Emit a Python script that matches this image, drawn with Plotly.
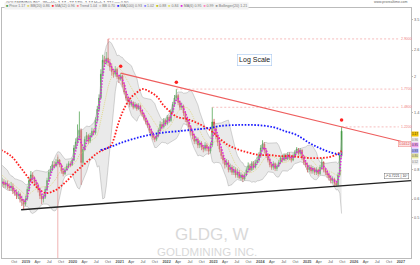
import numpy as np
import pandas as pd
import plotly.graph_objects as go

# ---------------- data (bi-weekly bars) ----------------
bar_start = "2018-02-23"
first_open = 0.84
close = [0.82,0.80,0.78,0.80,0.76,0.74,0.75,0.72,0.70,0.71,
         0.69,0.70,0.68,0.67,0.68,0.65,0.64,0.62,0.63,0.60,
         0.59,0.57,0.60,0.66,0.72,0.76,0.74,0.71,0.69,0.66,
         0.62,0.60,0.61,0.66,0.72,0.78,0.80,0.84,0.83,0.86,
         0.88,0.84,0.79,0.77,0.80,0.83,0.85,0.84,0.88,0.99,
         1.05,1.10,1.18,0.86,0.98,1.08,1.12,1.06,1.12,1.17,
         1.15,1.30,1.45,1.62,2.05,2.35,2.30,2.40,2.30,2.20,
         2.10,2.05,2.15,2.00,1.95,2.02,1.85,1.72,1.62,1.58,
         1.52,1.55,1.48,1.52,1.46,1.50,1.42,1.38,1.33,1.28,
         1.24,1.18,1.14,1.10,1.08,1.12,1.18,1.25,1.22,1.30,
         1.26,1.34,1.30,1.42,1.52,1.62,1.66,1.55,1.48,1.50,
         1.40,1.32,1.28,1.22,1.16,1.12,1.06,1.08,1.02,1.04,
         1.00,0.98,1.02,0.99,0.96,1.02,1.28,1.20,1.12,1.05,
         0.98,0.92,0.88,0.84,0.86,0.80,0.82,0.78,0.80,0.76,
         0.78,0.74,0.76,0.73,0.76,0.80,0.83,0.80,0.85,0.82,
         0.86,0.88,0.92,0.99,1.03,0.97,0.92,0.88,0.84,0.82,
         0.85,0.81,0.83,0.86,0.90,0.88,0.92,0.89,0.93,0.90,
         0.88,0.92,0.95,0.98,0.94,0.97,0.90,0.86,0.84,0.80,
         0.82,0.79,0.81,0.78,0.80,0.77,0.82,0.86,0.80,0.78,
         0.76,0.74,0.72,0.73,0.70,0.69,0.76,0.92,1.17]
high = [0.87,0.84,0.82,0.83,0.82,0.78,0.78,0.77,0.74,0.74,
        0.73,0.72,0.72,0.70,0.71,0.70,0.67,0.66,0.65,0.64,
        0.62,0.60,0.62,0.68,0.74,0.79,0.78,0.75,0.72,0.70,
        0.67,0.63,0.63,0.68,0.74,0.80,0.83,0.87,0.87,0.89,
        0.91,0.89,0.85,0.81,0.82,0.85,0.87,0.87,0.90,1.02,
        1.09,1.25,1.42,1.20,1.01,1.11,1.16,1.14,1.15,1.21,
        1.20,1.34,1.50,1.68,2.15,2.48,2.45,2.55,2.90,2.38,
        2.28,2.16,2.22,2.18,2.04,2.07,2.04,1.88,1.75,1.66,
        1.61,1.59,1.57,1.56,1.54,1.54,1.52,1.45,1.40,1.35,
        1.31,1.26,1.20,1.16,1.12,1.15,1.21,1.29,1.28,1.33,
        1.32,1.37,1.37,1.45,1.56,1.67,1.77,1.69,1.58,1.55,
        1.52,1.42,1.35,1.30,1.24,1.18,1.14,1.11,1.10,1.07,
        1.06,1.02,1.05,1.04,1.01,1.05,1.48,1.32,1.23,1.14,
        1.07,1.00,0.94,0.90,0.89,0.88,0.85,0.84,0.83,0.82,
        0.81,0.80,0.78,0.77,0.78,0.82,0.86,0.85,0.87,0.87,
        0.88,0.91,0.95,1.02,1.07,1.05,0.99,0.94,0.90,0.86,
        0.87,0.86,0.85,0.88,0.92,0.92,0.94,0.94,0.95,0.95,
        0.92,0.94,0.97,1.00,0.99,0.99,0.98,0.92,0.88,0.86,
        0.84,0.84,0.83,0.82,0.82,0.81,0.84,0.90,0.87,0.82,
        0.80,0.78,0.76,0.75,0.74,0.72,0.78,0.95,1.22]
low = [0.79,0.77,0.75,0.76,0.74,0.72,0.72,0.70,0.68,0.68,
       0.67,0.67,0.66,0.65,0.65,0.63,0.62,0.60,0.60,0.58,
       0.56,0.54,0.56,0.59,0.65,0.71,0.72,0.69,0.67,0.64,
       0.60,0.57,0.58,0.60,0.65,0.71,0.76,0.79,0.81,0.82,
       0.84,0.82,0.77,0.75,0.76,0.79,0.81,0.82,0.83,0.87,
       0.97,1.03,1.08,0.69,0.84,0.96,1.05,1.03,1.04,1.10,
       1.12,1.13,1.28,1.42,1.60,2.00,2.20,2.25,2.22,2.12,
       2.02,1.98,2.00,1.95,1.88,1.92,1.80,1.68,1.58,1.53,
       1.48,1.49,1.45,1.46,1.43,1.44,1.39,1.35,1.30,1.25,
       1.21,1.15,1.11,1.07,1.05,1.06,1.10,1.16,1.19,1.20,
       1.23,1.24,1.27,1.28,1.40,1.50,1.58,1.51,1.44,1.44,
       1.36,1.28,1.24,1.18,1.12,1.08,1.03,1.03,0.99,0.99,
       0.97,0.95,0.96,0.96,0.93,0.94,1.00,1.15,1.08,1.01,
       0.95,0.89,0.85,0.81,0.82,0.78,0.78,0.76,0.76,0.74,
       0.74,0.73,0.72,0.71,0.72,0.75,0.78,0.78,0.79,0.80,
       0.81,0.84,0.86,0.90,0.97,0.94,0.90,0.86,0.82,0.80,
       0.80,0.79,0.79,0.82,0.85,0.86,0.87,0.87,0.88,0.88,
       0.86,0.87,0.90,0.93,0.92,0.92,0.88,0.84,0.82,0.78,
       0.78,0.77,0.77,0.76,0.76,0.75,0.76,0.80,0.78,0.76,
       0.74,0.72,0.70,0.70,0.68,0.68,0.68,0.75,0.90]

# moving averages
red_ma_dates = ["2018-06-21","2018-09-07","2018-11-23","2019-02-08","2019-04-11","2019-06-05",
                "2019-08-21","2019-11-06","2020-01-23","2020-04-10","2020-07-12","2020-09-12",
                "2020-10-21","2020-11-13","2020-12-22","2021-01-30","2021-03-26","2021-05-19",
                "2021-06-26","2021-08-27","2021-10-21","2021-12-06","2022-01-30","2022-03-25",
                "2022-06-11","2022-08-27","2022-12-05","2023-02-21","2023-05-09","2023-07-25",
                "2023-10-11","2023-12-27","2024-03-14","2024-05-31","2024-08-17","2024-11-02",
                "2025-01-19","2025-04-07","2025-06-23","2025-08-24","2025-09-26"]
red_ma_vals = [0.972,0.916,0.814,0.717,0.662,0.636,0.656,0.709,0.783,0.855,0.944,0.982,
               1.011,1.073,1.268,1.441,1.621,1.720,1.771,1.720,1.637,1.513,1.413,1.345,
               1.318,1.268,1.183,1.083,1.011,0.972,0.944,0.925,0.925,0.916,0.916,0.907,
               0.898,0.898,0.907,0.934,0.962]
blue_ma_dates = ["2020-08-04","2020-09-28","2021-01-07","2021-06-11","2021-11-13","2022-04-17",
                 "2022-09-19","2022-12-05","2023-02-21","2023-07-02","2023-11-19","2024-04-06",
                 "2024-07-08","2024-10-10","2025-01-19","2025-04-07","2025-06-23","2025-09-26"]
blue_ma_vals = [0.972,0.991,1.041,1.105,1.149,1.172,1.195,1.207,1.231,1.243,1.243,1.219,
                1.172,1.127,1.041,0.991,0.953,0.925]

# drawing anchors (bar indices) and levels
red_trend_idx = [75, 198]      # highs
black_trend_idx = [21, 195]    # lows
level_idx = [68, 106, 126, 198]
marker_idx = [75, 106, 198]
vline_idx = 40
trend_end = "2027-03-21"
level_end = "2026-12-16"
x_range = ["2018-06-28", "2027-03-21"]
y_ticks = [0.5, 0.6, 0.8, 1.4, 2.0, 2.6, 3.5]
tick_dates = pd.date_range("2018-07-01", "2027-01-01", freq="QS")
month_names = {1: None, 4: "Apr", 7: "Jul", 10: "Oct"}
tick_labels = [("<b>%d</b>" % d.year) if d.month == 1 else month_names[d.month] for d in tick_dates]

# ---------------- derived ----------------
dates = pd.date_range(bar_start, periods=len(close), freq="14D")
opens = [first_open] + close[:-1]
s = pd.Series(close, index=dates)
bb_mid = s.rolling(10).mean()
bb_sd = s.rolling(10).std(ddof=0)
bb_up = bb_mid + 2 * bb_sd
bb_lo = bb_mid - 2 * bb_sd
mag = s.rolling(3).mean()


def extend(i0, i1, vals, t_end):
    t0, t1 = dates[i0].value, dates[i1].value
    l0, l1 = np.log10(vals[i0]), np.log10(vals[i1])
    te = pd.Timestamp(t_end).value
    le = l0 + (l1 - l0) * (te - t0) / (t1 - t0)
    return [dates[i0], pd.Timestamp(t_end)], [vals[i0], 10 ** le]


fig = go.Figure()
# Bollinger band
fig.add_trace(go.Scatter(x=dates, y=bb_up, mode="lines",
                         line=dict(color="rgba(150,150,150,0.8)", width=0.5)))
fig.add_trace(go.Scatter(x=dates, y=bb_lo, mode="lines", fill="tonexty",
                         fillcolor="rgba(200,200,200,0.38)",
                         line=dict(color="rgba(150,150,150,0.8)", width=0.5)))
fig.add_trace(go.Scatter(x=dates, y=bb_mid, mode="lines",
                         line=dict(color="#dcd36a", width=0.7, dash="1px,1px")))
# level lines
for k in level_idx:
    fig.add_trace(go.Scatter(x=[dates[k], pd.Timestamp(level_end)], y=[high[k], high[k]],
                             mode="lines", line=dict(color="#f2a0a0", width=0.7, dash="2px,2px")))
# vertical line
fig.add_trace(go.Scatter(x=[dates[vline_idx], dates[vline_idx]], y=[0.93, 0.3],
                         mode="lines", line=dict(color="rgba(225,110,110,0.75)", width=0.7)))
# candles
fig.add_trace(go.Candlestick(x=dates, open=opens, high=high, low=low, close=close,
                             increasing=dict(line=dict(color="#3f9a3f", width=0.7), fillcolor="#3f9a3f"),
                             decreasing=dict(line=dict(color="#d23a3a", width=0.7), fillcolor="#d23a3a"),
                             whiskerwidth=0))
# trend lines
tx, ty = extend(red_trend_idx[0], red_trend_idx[1], high, trend_end)
fig.add_trace(go.Scatter(x=tx, y=ty, mode="lines", line=dict(color="#ee5e5e", width=1.2)))
bx, by = extend(black_trend_idx[0], black_trend_idx[1], low, trend_end)
bx[0] = bx[0] - pd.Timedelta(days=20)
fig.add_trace(go.Scatter(x=bx, y=by, mode="lines", line=dict(color="#222222", width=1.3)))
# moving averages
fig.add_trace(go.Scatter(x=pd.to_datetime(red_ma_dates), y=red_ma_vals, mode="lines",
                         line=dict(color="#ff1f1f", width=1.8, dash="1.6px,1.6px", shape="spline")))
fig.add_trace(go.Scatter(x=pd.to_datetime(blue_ma_dates), y=blue_ma_vals, mode="lines",
                         line=dict(color="#1a1aff", width=1.8, dash="1.6px,1.6px", shape="spline")))
fig.add_trace(go.Scatter(x=dates, y=mag, mode="lines",
                         line=dict(color="#e01ee0", width=1.6, dash="1.4px,1.6px")))
# pivot markers
fig.add_trace(go.Scatter(x=[dates[k] for k in marker_idx], y=[high[k] * 1.07 for k in marker_idx],
                         mode="markers", marker=dict(color="#ff2020", size=3.5, symbol="circle")))


def py(px):
    return (258 - px) / 250.0


ann = []
# level labels
for k in level_idx:
    ann.append(dict(x=pd.Timestamp(level_end), y=np.log10(high[k]), xref="x", yref="y",
                    text="%.4f" % high[k], showarrow=False, xanchor="left", yanchor="middle",
                    font=dict(size=3.5, color="#f08080")))
# trend labels
ann.append(dict(x=1.0, y=np.log10(ty[1]), xref="paper", yref="y", text="1.0412",
                showarrow=False, xanchor="right", yanchor="middle",
                font=dict(size=3.5, color="#e05050"), bgcolor="#fde4e4",
                bordercolor="#ee7070", borderwidth=0.4, borderpad=0.5))
ann.append(dict(x=0.995, y=np.log10(by[1]) + 0.006, xref="paper", yref="y", text="↗ 0.7221 | 10°",
                showarrow=False, xanchor="right", yanchor="bottom",
                font=dict(size=3.5, color="#333"), bgcolor="white",
                bordercolor="#555", borderwidth=0.4, borderpad=0.5))
# axis value tags (stacked like the reference)
tags = [(close[-1], "#f2c200", "#333", 134), (red_ma_vals[-1], "#eeeeee", "#777", 139.5),
        (float(mag.iloc[-1]), "#f0a0f0", "#333", 145), (blue_ma_vals[-1], "#b0b0ff", "#333", 150.5),
        (float(bb_mid.iloc[-1]), "#e8e8a0", "#555", 156), (float(bb_lo.iloc[-1]), "#eeeeee", "#777", 161.5)]
for v, bg, fc, ypx in tags:
    ann.append(dict(x=1.0, y=py(ypx), xref="paper", yref="paper", text="%.2f" % v,
                    showarrow=False, xanchor="left", yanchor="middle",
                    font=dict(size=3.0, color=fc), bgcolor=bg, borderpad=0.1))
# Log scale box
ann.append(dict(x=0.618, y=py(60), xref="paper", yref="paper", text="Log Scale", showarrow=False,
                xanchor="center", yanchor="middle",
                font=dict(size=7, color="#222", family="Liberation Sans, Arial"),
                bgcolor="white", bordercolor="#a8c8f0", borderwidth=0.6, borderpad=1.5))
# watermark
ann.append(dict(x=0.513, y=py(234.5), xref="paper", yref="paper", text="GLDG, W", showarrow=False,
                xanchor="center", yanchor="middle",
                font=dict(size=17, color="#d9d9d9", family="Liberation Sans, Arial")))
ann.append(dict(x=0.501, y=py(252), xref="paper", yref="paper", text="GOLDMINING INC.", showarrow=False,
                xanchor="center", yanchor="middle",
                font=dict(size=11.5, color="#d9d9d9", family="Liberation Sans, Arial")))
# header
ann.append(dict(x=0.004, y=1.022, xref="paper", yref="paper", xanchor="left", yanchor="middle",
                text="GOLDMINING INC., Weekly, 1.17 +27.17%, 1.17 High 1.22 Low 0.90",
                showarrow=False, font=dict(size=4, color="#333")))
chips = [("#3f9a3f", "Price 1.17"), ("#dcd36a", "BB(20) 0.86"), ("#ff1f1f", "MA(52) 0.96"),
         ("#ff8080", "Trend 1.04"), ("#cccccc", "BB 0.70"), ("#1a1aff", "MA(100) 0.93"),
         ("#8080ff", "1.02"), ("#c0c000", "0.88"), ("#e0e060", "0.84"), ("#e01ee0", "MA(6) 0.95"),
         ("#ff80c0", "0.99"), ("#999999", "Bollinger(20) 1.21")]
row2 = "  ".join("<span style='color:%s'>■</span> %s" % (c, t) for c, t in chips)
ann.append(dict(x=0.004, y=1.006, xref="paper", yref="paper", xanchor="left", yanchor="middle",
                text=row2, showarrow=False, font=dict(size=3.6, color="#777"),
                bgcolor="#f2f2f2"))
ann.append(dict(x=0.998, y=1.022, xref="paper", yref="paper", xanchor="right", yanchor="middle",
                text="www.prorealtime.com", showarrow=False, font=dict(size=3.5, color="#666")))

fig.update_layout(
    width=420, height=265,
    margin=dict(l=1, r=8, t=8, b=7),
    paper_bgcolor="white", plot_bgcolor="white",
    showlegend=False, hovermode=False,
    font=dict(family="Liberation Sans, Arial", size=4.5, color="#555"),
    annotations=ann,
    xaxis=dict(range=x_range, rangeslider=dict(visible=False), showgrid=False,
               tickmode="array", tickvals=tick_dates, ticktext=tick_labels,
               tickfont=dict(size=3.8, color="#555"), ticks="", ticklen=0,
               showline=True, linecolor="#bbbbbb", linewidth=0.6, mirror=True, zeroline=False),
    yaxis=dict(type="log", range=[-0.4739, 0.5945], side="right", showgrid=False,
               tickmode="array", tickvals=y_ticks, ticktext=[("%g" % v) for v in y_ticks],
               tickfont=dict(size=3.8, color="#666"), ticks="outside", ticklen=1.5,
               tickcolor="#bbbbbb",
               showline=True, linecolor="#bbbbbb", linewidth=0.6, mirror=True, zeroline=False),
)

fig.write_html("out.html")
